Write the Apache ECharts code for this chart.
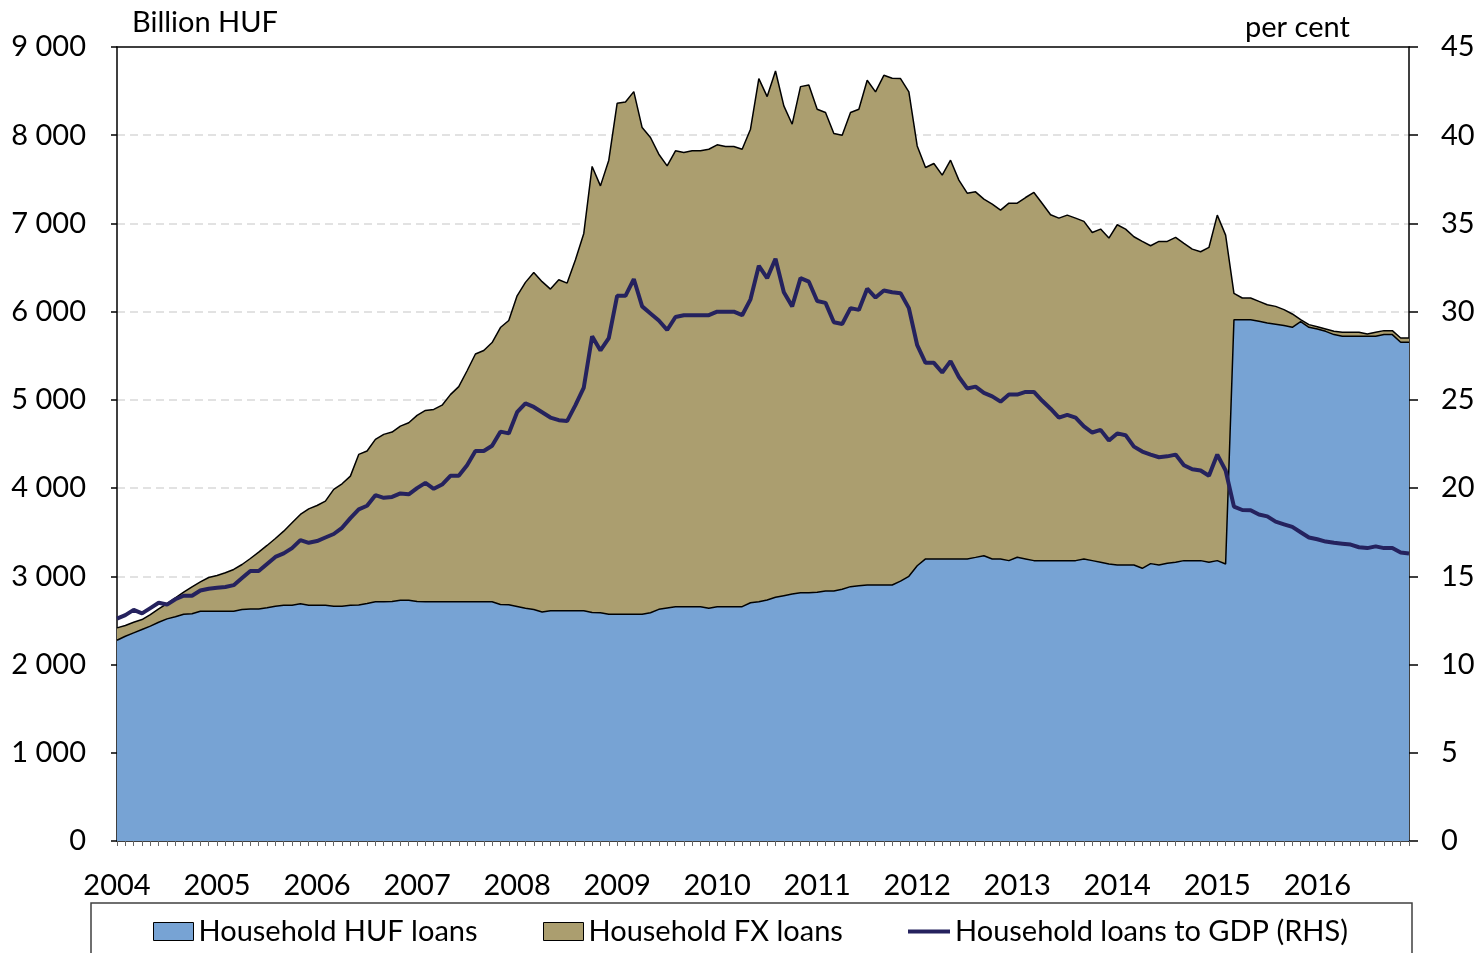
<!DOCTYPE html>
<html>
<head>
<meta charset="utf-8">
<script src="https://cdn.jsdelivr.net/npm/echarts@6/dist/echarts.min.js"></script>
<style>
html,body{margin:0;padding:0;background:#fff;}
#chart{width:1480px;height:953px;}
</style>
</head>
<body>
<div id="chart"></div>
<script>
// ---- DATA ----
const years = ['2004','2005','2006','2007','2008','2009','2010','2011','2012','2013','2014','2015','2016'];
const monthNums = ['01','02','03','04','05','06','07','08','09','10','11','12'];

// Household HUF loans, billion HUF (monthly, Jan 2004 - Dec 2016)
const hufLoans = [
 2276,2321,2359,2397,2435,2480,2518,2541,2571,2575,2605,2605,
 2605,2605,2605,2624,2631,2631,2643,2662,2673,2673,2688,2673,
 2673,2673,2662,2662,2673,2676,2692,2711,2711,2714,2730,2730,
 2715,2711,2711,2711,2711,2711,2711,2711,2711,2711,2680,2677,
 2658,2639,2625,2595,2611,2611,2611,2611,2611,2590,2588,2569,
 2569,2569,2569,2569,2588,2626,2641,2656,2656,2656,2656,2637,
 2656,2656,2656,2656,2701,2713,2732,2762,2781,2800,2815,2815,
 2819,2834,2834,2853,2883,2894,2902,2902,2902,2902,2945,3000,
 3120,3197,3197,3197,3197,3197,3197,3215,3234,3197,3197,3178,
 3216,3197,3178,3178,3178,3178,3178,3178,3197,3178,3159,3140,
 3129,3129,3129,3091,3144,3129,3148,3159,3178,3178,3178,3159,
 3178,3140,5909,5909,5909,5891,5872,5857,5842,5823,5887,5823,
 5804,5777,5740,5721,5721,5721,5721,5721,5740,5740,5653,5653
];

// Household FX loans, billion HUF
const fxLoans = [
 140,121,121,113,132,151,174,215,249,306,333,382,
 404,435,473,510,571,643,707,767,839,934,1013,1092,
 1130,1180,1323,1387,1463,1706,1728,1841,1898,1921,1973,2011,
 2109,2170,2181,2229,2349,2439,2619,2809,2849,2939,3140,3223,
 3522,3693,3820,3745,3645,3751,3713,3978,4276,5056,4838,5148,
 5793,5808,5925,5518,5386,5159,5012,5167,5148,5167,5167,5204,
 5235,5216,5216,5185,5367,5929,5706,5966,5551,5325,5736,5755,
 5475,5423,5185,5147,5374,5400,5721,5589,5777,5743,5697,5491,
 4759,4437,4482,4350,4520,4294,4146,4143,4041,4022,3954,4052,
 4014,4097,4173,4048,3920,3882,3916,3882,3826,3720,3777,3694,
 3856,3807,3720,3705,3603,3667,3648,3683,3596,3531,3501,3569,
 3916,3728,299,246,246,226,207,203,181,151,22,30,
 26,27,37,45,45,45,26,45,45,45,49,49
];

// Household loans to GDP, per cent (RHS)
const loansToGdp = [
 12.6,12.8,13.1,12.9,13.2,13.5,13.4,13.7,13.9,13.9,14.2,14.3,
 14.35,14.4,14.5,14.9,15.3,15.3,15.7,16.1,16.3,16.6,17.05,16.9,
 17.0,17.2,17.4,17.75,18.3,18.8,19.0,19.6,19.45,19.5,19.7,19.65,
 20.0,20.3,19.96,20.2,20.7,20.7,21.3,22.1,22.1,22.4,23.2,23.1,
 24.3,24.8,24.6,24.3,24.0,23.85,23.8,24.7,25.7,28.6,27.8,28.5,
 30.9,30.9,31.85,30.3,29.9,29.5,28.96,29.7,29.8,29.8,29.8,29.8,
 30.0,30.0,30.0,29.8,30.7,32.6,31.9,33.0,31.1,30.3,31.9,31.7,
 30.6,30.5,29.4,29.3,30.2,30.1,31.3,30.8,31.2,31.1,31.05,30.2,
 28.1,27.1,27.1,26.55,27.2,26.3,25.65,25.75,25.4,25.2,24.9,25.3,
 25.3,25.45,25.45,24.95,24.5,24.0,24.15,24.0,23.5,23.15,23.3,22.7,
 23.1,23.0,22.35,22.07,21.9,21.75,21.8,21.9,21.3,21.07,21.0,20.7,
 21.9,21.0,18.95,18.76,18.75,18.5,18.4,18.1,17.95,17.8,17.5,17.2,
 17.1,16.97,16.9,16.85,16.8,16.65,16.6,16.7,16.6,16.6,16.35,16.3
];

const seriesNames = ['Household HUF loans','Household FX loans','Household loans to GDP (RHS)'];
const leftUnit = 'Billion HUF';
const rightUnit = 'per cent';

// ---- CHART ----
const months = [];
years.forEach(y => monthNums.forEach(m => months.push(y + '-' + m)));

const FONT = 'Lato';
const FS = 29;
const txt = {fontFamily: FONT, fontSize: FS, color: '#000'};

const chart = echarts.init(document.getElementById('chart'), null, {renderer: 'canvas'});

const fmtThousands = v => {
  const s = String(Math.round(v));
  return s.replace(/\B(?=(\d{3})+(?!\d))/g, ' ');
};

chart.setOption({
  animation: false,
  backgroundColor: '#fff',
  grid: {left: 117, right: 71, top: 47, bottom: 112},
  xAxis: [
    {
      type: 'category',
      data: months,
      boundaryGap: false,
      axisLine: {show: true, lineStyle: {color: '#000', width: 1.5}},
      axisTick: {show: true, interval: 0, length: 5, lineStyle: {color: '#666', width: 1}},
      axisLabel: {interval: 11, margin: 30, formatter: v => v.slice(0, 4), ...txt},
      splitLine: {show: false}
    },
    {
      type: 'category',
      data: months,
      position: 'top',
      boundaryGap: false,
      axisLine: {show: true, onZero: false, lineStyle: {color: '#000', width: 1.5}},
      axisTick: {show: false},
      axisLabel: {show: false},
      splitLine: {show: false}
    }
  ],
  yAxis: [
    {
      type: 'value', min: 0, max: 9000, interval: 1000, position: 'left',
      axisLine: {show: true, lineStyle: {color: '#000', width: 1.5}},
      axisTick: {show: true, length: 6, lineStyle: {color: '#000', width: 1.5}},
      axisLabel: {margin: 31, formatter: fmtThousands, ...txt},
      splitLine: {show: true, showMinLine: false, showMaxLine: false, lineStyle: {color: '#d9d9d9', width: 1.5, type: [8, 5]}}
    },
    {
      type: 'value', min: 0, max: 45, interval: 5, position: 'right',
      axisLine: {show: true, lineStyle: {color: '#000', width: 1.5}},
      axisTick: {show: true, length: 9, lineStyle: {color: '#000', width: 1.5}},
      axisLabel: {margin: 32, ...txt},
      splitLine: {show: false}
    }
  ],
  legend: [
    {left: 148, top: 912, data: [seriesNames[0]], icon: 'rect', itemWidth: 40, itemHeight: 18, itemGap: 0,
     itemStyle: {borderColor: '#000', borderWidth: 1}, textStyle: txt},
    {left: 538, top: 912, data: [seriesNames[1]], icon: 'rect', itemWidth: 40, itemHeight: 18, itemGap: 0,
     itemStyle: {borderColor: '#000', borderWidth: 1}, textStyle: txt},
    {left: 903, top: 912, data: [seriesNames[2]], icon: 'rect', itemWidth: 42, itemHeight: 4, itemGap: 0,
     itemStyle: {borderWidth: 0}, textStyle: txt}
  ],
  graphic: [
    {type: 'rect', shape: {x: 91, y: 903, width: 1321, height: 80}, style: {fill: 'none', stroke: '#404040', lineWidth: 1.5}, silent: true},
    {type: 'text', x: 132, y: 23, style: {text: leftUnit, font: FS + 'px ' + FONT, fill: '#000', verticalAlign: 'middle', align: 'left'}},
    {type: 'text', x: 1245, y: 28, style: {text: rightUnit, font: FS + 'px ' + FONT, fill: '#000', verticalAlign: 'middle', align: 'left'}}
  ],
  series: [
    {
      name: seriesNames[0], type: 'line', stack: 'loans', data: hufLoans, yAxisIndex: 0,
      symbol: 'none', z: 3,
      lineStyle: {color: '#000', width: 1.5},
      itemStyle: {color: '#77A3D4'},
      areaStyle: {color: '#77A3D4', opacity: 1}
    },
    {
      name: seriesNames[1], type: 'line', stack: 'loans', data: fxLoans, yAxisIndex: 0,
      symbol: 'none', z: 2,
      lineStyle: {color: '#000', width: 1.5},
      itemStyle: {color: '#AB9E6F'},
      areaStyle: {color: '#AB9E6F', opacity: 1}
    },
    {
      name: seriesNames[2], type: 'line', data: loansToGdp, yAxisIndex: 1,
      symbol: 'none', z: 5,
      lineStyle: {color: '#25225E', width: 4},
      itemStyle: {color: '#25225E'}
    }
  ]
});
</script>
</body>
</html>
